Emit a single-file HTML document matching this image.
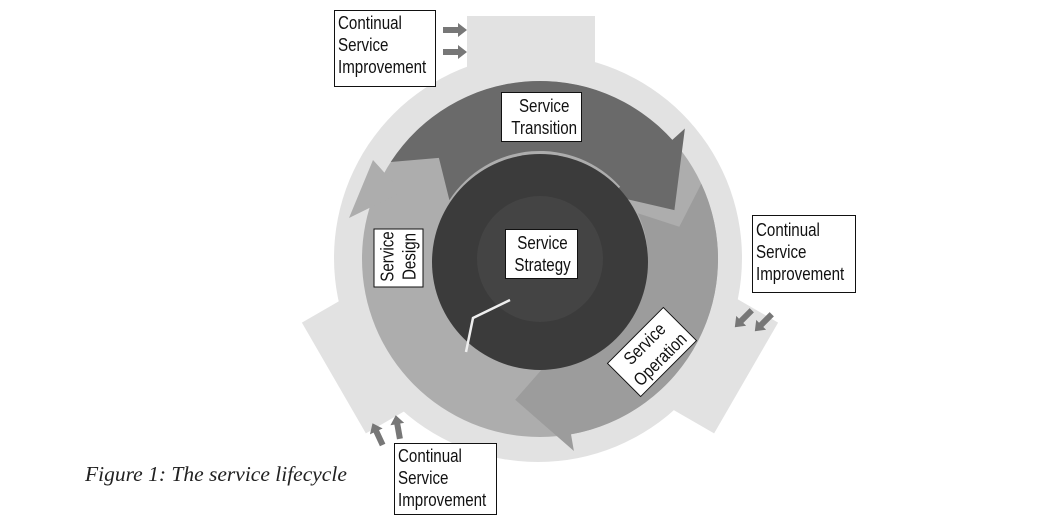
<!DOCTYPE html>
<html><head><style>
body{margin:0;background:#fff;}
.w{position:relative;width:1050px;height:523px;overflow:hidden;}
.b{position:absolute;background:#fff;border:1.5px solid #111;box-sizing:border-box;font-family:"Liberation Sans",sans-serif;font-size:18px;line-height:22px;color:#111;padding:1px 3px;white-space:nowrap;}
.b span{display:inline-block;transform:scaleX(0.84);transform-origin:left top;}
.c span{transform-origin:center top;}
.c{text-align:center;}
.cap{position:absolute;left:85px;top:462px;font-family:"Liberation Serif",serif;font-style:italic;font-size:21.5px;color:#222;}
</style></head><body><div class="w">
<svg width="1050" height="523" style="position:absolute;left:0;top:0">
<g fill="#e2e2e2">
<g transform="translate(540,259) rotate(120)"><rect x="-64" y="-238" width="128" height="238"/></g>
<g transform="translate(540,259) rotate(240)"><rect x="-64" y="-238" width="128" height="238"/></g>
</g>
<rect x="467" y="16" width="128" height="120" fill="#e2e2e2"/>
<circle cx="538" cy="258" r="204" fill="#e2e2e2"/>
<circle cx="540" cy="259" r="178" fill="#adadad"/>
<polygon points="349,218 373,160 402,192" fill="#adadad"/>
<path d="M390.7,162 A178,178 0 0 1 672.3,139.9 L684.9,128.5 L674.4,210.1 L610.6,195.4 L620.2,186.7 A108,108 0 0 0 449.4,200.1 L438.9,157.9 Z" fill="#6a6a6a"/>
<path d="M701.3,183.7 A178,178 0 0 1 571,434.3 L573.9,451 L515.2,399.8 L556.5,352.6 L558.8,365.4 A108,108 0 0 0 637.8,213.3 L679.3,226.8 Z" fill="#9c9c9c"/>
<circle cx="540" cy="262" r="108" fill="#3b3b3b"/>
<circle cx="540" cy="259" r="63" fill="#444"/>
<polyline points="510,300 473,318 466,352" fill="none" stroke="#eee" stroke-width="2.5"/>
<g fill="#777">
<polygon points="443,27 458,27 458,23 467,30 458,37 458,33 443,33"/>
<polygon points="443,49 458,49 458,45 467,52 458,59 458,55 443,55"/>
<g transform="translate(744,318) rotate(135)"><polygon points="-11,-3 4,-3 4,-7 13,0 4,7 4,3 -11,3"/></g>
<g transform="translate(764,322) rotate(135)"><polygon points="-11,-3 4,-3 4,-7 13,0 4,7 4,3 -11,3"/></g>
<g transform="translate(378,435) rotate(-115)"><polygon points="-11,-3 4,-3 4,-7 13,0 4,7 4,3 -11,3"/></g>
<g transform="translate(398,428) rotate(-100)"><polygon points="-11,-3 4,-3 4,-7 13,0 4,7 4,3 -11,3"/></g>
</g>
</svg>
<div class="b" style="left:334px;top:10px;width:102px;height:77px;"><span>Continual<br>Service<br>Improvement</span></div>
<div class="b" style="left:752px;top:215px;width:104px;height:78px;padding-top:3px"><span>Continual<br>Service<br>Improvement</span></div>
<div class="b" style="left:394px;top:443px;width:103px;height:72px;"><span>Continual<br>Service<br>Improvement</span></div>
<div class="b c" style="left:501px;top:92px;width:81px;height:50px;padding-top:2px"><span>Service<br>Transition</span></div>
<div class="b c" style="left:505px;top:229px;width:73px;height:50px;padding-top:2px"><span>Service<br>Strategy</span></div>
<div class="b c" style="left:369px;top:233px;width:59px;height:50px;padding:2px 0 0 0;transform:rotate(-90deg)"><span>Service<br>Design</span></div>
<div class="b c" style="left:612px;top:328px;width:80px;height:48px;padding:1px 0 0 0;transform:rotate(-45deg)"><span>Service<br>Operation</span></div>
<div class="cap">Figure 1: The service lifecycle</div>
</div></body></html>
